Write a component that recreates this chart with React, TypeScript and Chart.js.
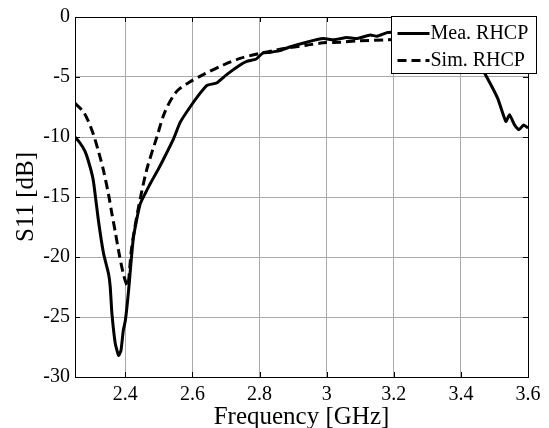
import React, { useEffect, useRef } from "react";
import { Chart, registerables } from "chart.js";

Chart.register(...registerables);

const meaFreq = [
  2.25, 2.265, 2.28, 2.295, 2.305, 2.32, 2.335, 2.35, 2.355, 2.36, 2.37, 2.38, 2.387, 2.394, 2.4,
  2.409, 2.424, 2.444, 2.474, 2.498, 2.52, 2.543, 2.563, 2.593, 2.623, 2.643, 2.672, 2.702, 2.742,
  2.762, 2.79, 2.81, 2.83, 2.86, 2.89, 2.94, 2.99, 3.02, 3.06, 3.09, 3.13, 3.15, 3.18, 3.2, 3.25,
  3.3, 3.35, 3.4, 3.44, 3.477, 3.51, 3.534, 3.545, 3.56, 3.573, 3.587, 3.6,
];
const meaS11 = [
  -10, -10.5, -11.2, -12.5, -13.7, -17, -19.7, -21.4, -22.5, -24.7, -27.2, -28.2, -27.8, -26.1, -25.3,
  -23, -18.4, -15.6, -13.9, -12.7, -11.5, -10.2, -8.8, -7.5, -6.35, -5.7, -5.5, -4.8, -4.0,
  -3.7, -3.5, -3.0, -2.95, -2.8, -2.5, -2.1, -1.8, -1.9, -1.7, -1.8, -1.5, -1.6, -1.3, -1.25, -1.2,
  -1.2, -1.4, -2.0, -3.2, -5.0, -6.8, -8.7, -8.15, -9.0, -9.4, -9.0, -9.25,
];

const simFreq = [
  2.25, 2.275, 2.29, 2.305, 2.32, 2.335, 2.35, 2.36, 2.37, 2.38, 2.394, 2.404, 2.408, 2.419, 2.439,
  2.464, 2.494, 2.518, 2.553, 2.593, 2.632, 2.692, 2.742, 2.8, 2.85, 2.89, 2.94, 2.99, 3.04, 3.09,
  3.18, 3.3, 3.45, 3.6,
];
const simS11 = [
  -7.2, -7.9, -8.7, -9.8, -11.2, -12.8, -14.8, -16.4, -17.9, -19.5, -21.4, -22.3, -22.4, -19.2, -15.9,
  -12.7, -10.0, -7.9, -6.2, -5.4, -4.8, -4.0, -3.45, -3.04, -2.75, -2.55, -2.35, -2.15, -2.1, -2.0,
  -1.9, -1.8, -1.8, -1.9,
];

const xTicks = [2.4, 2.6, 2.8, 3, 3.2, 3.4, 3.6];
const yTicks = [0, -5, -10, -15, -20, -25, -30];
const seriesLabels = ["Mea. RHCP", "Sim. RHCP"];

const FONT = "'Liberation Serif', 'Times New Roman', serif";

const framePlugin = {
  id: "frameAndLegend",
  afterDraw(chart: any) {
    const { ctx, chartArea } = chart;
    const { left, right, top, bottom } = chartArea;
    const xs = chart.scales.x;
    const ys = chart.scales.y;
    ctx.save();
    ctx.strokeStyle = "#000";
    ctx.lineWidth = 1;
    const tl = 5;
    ctx.beginPath();
    xTicks.forEach((v) => {
      const px = Math.round(xs.getPixelForValue(v)) + 0.5;
      ctx.moveTo(px, bottom);
      ctx.lineTo(px, bottom - tl);
      ctx.moveTo(px, top);
      ctx.lineTo(px, top + tl);
    });
    yTicks.forEach((v) => {
      const py = Math.round(ys.getPixelForValue(v)) + 0.5;
      ctx.moveTo(left, py);
      ctx.lineTo(left + tl, py);
      ctx.moveTo(right, py);
      ctx.lineTo(right - tl, py);
    });
    ctx.stroke();
    ctx.strokeRect(Math.round(left) + 0.5, Math.round(top) + 0.5, Math.round(right - left), Math.round(bottom - top));

    const bx = 391.5, by = 16.5, bw = 145, bh = 57;
    ctx.fillStyle = "#fff";
    ctx.fillRect(bx, by, bw, bh);
    ctx.strokeRect(bx, by, bw, bh);
    const rows = [by + 17, by + 44];
    chart.data.datasets.forEach((ds: any, i: number) => {
      const ry = rows[i];
      ctx.beginPath();
      ctx.lineWidth = ds.borderWidth;
      ctx.strokeStyle = ds.borderColor;
      ctx.setLineDash(ds.borderDash || []);
      ctx.moveTo(bx + 6, ry);
      ctx.lineTo(bx + 38, ry);
      ctx.stroke();
      ctx.setLineDash([]);
      ctx.fillStyle = "#000";
      ctx.font = `20px ${FONT}`;
      ctx.textBaseline = "middle";
      ctx.textAlign = "left";
      ctx.fillText(ds.label, bx + 39, ry);
    });
    ctx.restore();
  },
};

export default function App() {
  const ref = useRef<HTMLCanvasElement>(null);
  useEffect(() => {
    if (!ref.current) return;
    const chart = new Chart(ref.current, {
      type: "line",
      data: {
        datasets: [
          {
            label: seriesLabels[0],
            data: meaFreq.map((f, i) => ({ x: f, y: meaS11[i] })),
            borderColor: "#000",
            borderWidth: 3,
            pointRadius: 0,
            tension: 0.15,
            fill: false,
          },
          {
            label: seriesLabels[1],
            data: simFreq.map((f, i) => ({ x: f, y: simS11[i] })),
            borderColor: "#000",
            borderWidth: 3,
            borderDash: [9, 5],
            pointRadius: 0,
            tension: 0.3,
            fill: false,
          },
        ],
      },
      options: {
        animation: false,
        responsive: false,
        events: [],
        layout: { padding: { left: 0, right: 21, top: 15, bottom: 0 } },
        plugins: { legend: { display: false }, tooltip: { enabled: false } },
        scales: {
          x: {
            type: "linear",
            min: 2.25,
            max: 3.6,
            afterBuildTicks: (s: any) => {
              s.ticks = xTicks.map((v) => ({ value: v }));
            },
            afterFit: (s: any) => {
              s.height = 51;
            },
            grid: { color: "#aaaaaa", lineWidth: 1, drawTicks: false },
            border: { display: false },
            ticks: {
              color: "#000",
              font: { family: FONT, size: 20 },
              padding: 6,
              maxRotation: 0,
              autoSkip: false,
              callback: (v: any) => String(v),
            },
            title: {
              display: true,
              text: "Frequency [GHz]",
              color: "#000",
              font: { family: FONT, size: 25, lineHeight: 0.84 },
              padding: { top: 0, bottom: 0 },
            },
          },
          y: {
            type: "linear",
            min: -30,
            max: 0,
            afterBuildTicks: (s: any) => {
              s.ticks = yTicks.map((v) => ({ value: v }));
            },
            afterFit: (s: any) => {
              s.width = 75;
            },
            grid: { color: "#aaaaaa", lineWidth: 1, drawTicks: false },
            border: { display: false },
            ticks: {
              color: "#000",
              font: { family: FONT, size: 20 },
              padding: 5,
              autoSkip: false,
              callback: (v: any) => String(v),
            },
            title: {
              display: true,
              text: "S11 [dB]",
              color: "#000",
              font: { family: FONT, size: 25, lineHeight: 1 },
              padding: { top: 14, bottom: 14 },
            },
          },
        },
      },
      plugins: [framePlugin],
    });
    return () => chart.destroy();
  }, []);
  return (
    <div style={{ position: "fixed", left: 0, top: 0, width: 549, height: 428, background: "#fff" }}>
      <canvas ref={ref} width={549} height={428} style={{ display: "block" }} />
    </div>
  );
}
